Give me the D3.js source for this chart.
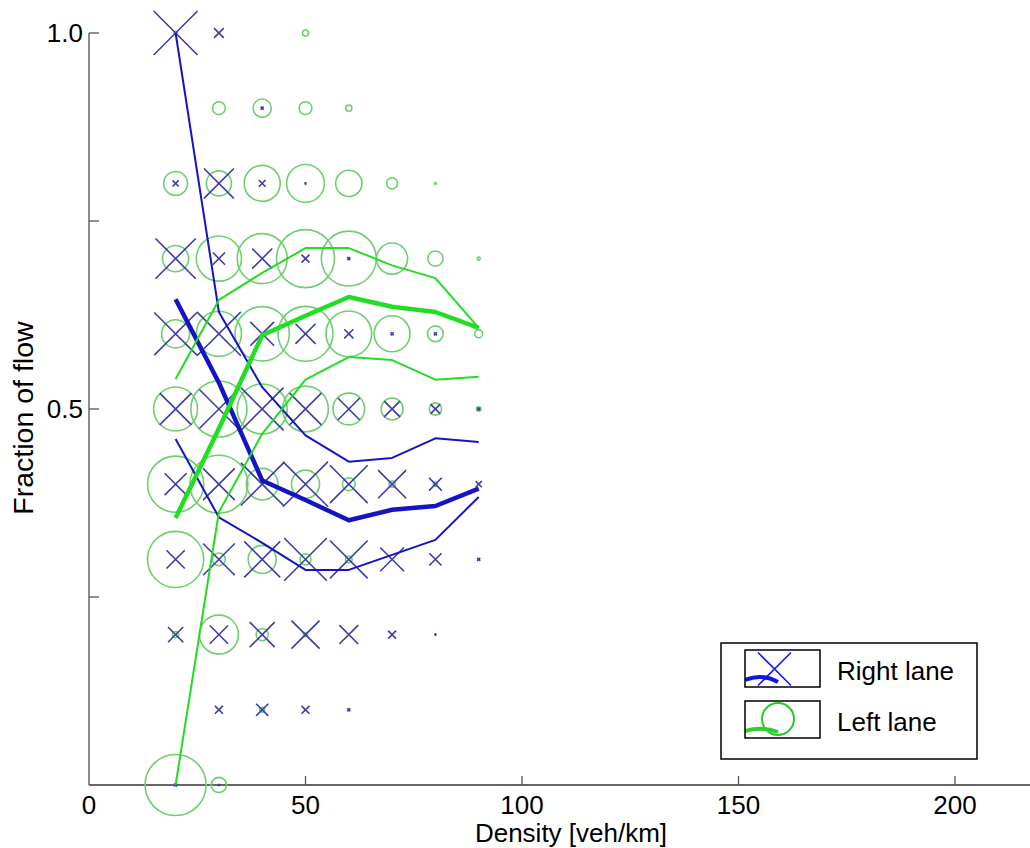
<!DOCTYPE html>
<html>
<head>
<meta charset="utf-8">
<script src="https://cdn.jsdelivr.net/npm/d3@7"></script>
<style>
  html, body { margin: 0; padding: 0; background: #fff; }
  svg { display: block; }
  text { font-family: "Liberation Sans", Arial, sans-serif; fill: #000; }
</style>
</head>
<body>
<div id="chart"></div>
<script>
// Density classes (veh/km) and flow-fraction classes
const densities = [20, 30, 40, 50, 60, 70, 80, 90];
const fractions = [1.0, 0.9, 0.8, 0.7, 0.6, 0.5, 0.4, 0.3, 0.2, 0.1, 0.0];

// Relative frequency of each (density, fraction) class, right lane (crosses)
const rightFreq = [
  [72, 16,  0,  0,  0,  0,  0,  0],
  [ 0,  0,  5,  0,  0,  0,  0,  0],
  [10, 49, 11,  3,  0,  0,  0,  0],
  [66, 20, 33, 13,  5,  0,  0,  0],
  [70, 72, 39, 33, 15,  5,  5,  0],
  [52, 64, 70, 52, 36, 26, 16,  5],
  [36, 52, 70, 74, 62, 46, 21, 10],
  [30, 52, 59, 70, 62, 39, 20,  5],
  [25, 30, 41, 46, 31, 13,  3,  0],
  [ 0, 13, 20, 13,  5,  0,  0,  0],
  [ 5,  3,  0,  0,  0,  0,  0,  0]
];

// Relative frequency of each (density, fraction) class, left lane (circles)
const leftFreq = [
  [  5,  0,  0, 10,  0,  0,  0,  0],
  [  0, 21, 30, 21, 10,  0,  0,  0],
  [ 39, 41, 59, 62, 43, 18,  3,  0],
  [ 43, 74, 82, 95, 90, 51, 25,  5],
  [ 46, 74, 89, 90, 75, 59, 26, 13],
  [ 72, 92, 82, 75, 52, 36, 20,  7],
  [ 92, 95, 52, 46, 21, 10,  7,  0],
  [ 92, 21, 46, 18, 11,  0,  0,  0],
  [ 10, 64, 20,  7,  0,  0,  0,  0],
  [  0,  0,  8,  0,  0,  0,  0,  0],
  [100, 25,  0,  0,  0,  0,  0,  0]
];

// Mean fraction of flow and mean ± one standard deviation per density class
const rightMean  = [0.646, 0.535, 0.405, 0.379, 0.352, 0.366, 0.371, 0.394];
const rightUpper = [1.000, 0.629, 0.529, 0.465, 0.430, 0.435, 0.461, 0.456];
const rightLower = [0.460, 0.356, 0.322, 0.286, 0.286, 0.306, 0.326, 0.383];
const leftMean   = [0.355, 0.474, 0.598, 0.624, 0.649, 0.636, 0.629, 0.608];
const leftUpper  = [0.540, 0.645, 0.681, 0.714, 0.714, 0.691, 0.674, 0.608];
const leftLower  = [0.000, 0.363, 0.467, 0.539, 0.569, 0.565, 0.539, 0.543];

// Axis ticks
const xTicks = [0, 50, 100, 150, 200];
const yTicks = [0.25, 0.5, 0.75, 1.0];
const yLabelled = [0.5, 1.0];

const legendItems = ["Right lane", "Left lane"];

const W = 1030, H = 848;
const blueMark = "#3d3da6";
const greenMark = "#6fcf6f";
const blueLine = "#1414c4";
const greenLine = "#22dd22";
const axisColor = "#555";

const svg = d3.select("#chart").append("svg")
  .attr("width", W).attr("height", H);
svg.append("rect").attr("width", W).attr("height", H).attr("fill", "#fff");

const x = d3.scaleLinear().domain([0, 220]).range([89, 89 + 220 * 4.33]);
const y = d3.scaleLinear().domain([0, 1]).range([785, 33]);
const size = d3.scaleLinear().domain([0, 100]).range([0, 30.5]);

// Axes
const xAxis = svg.append("g").attr("transform", `translate(0,${y(0)})`);
xAxis.append("line").attr("x1", x(0)).attr("x2", W).attr("y1", 0).attr("y2", 0)
  .attr("stroke", "#333").attr("stroke-width", 1.5);
xAxis.selectAll("line.tick").data(xTicks.filter(d => d > 0)).join("line")
  .attr("class", "tick")
  .attr("x1", d => x(d)).attr("x2", d => x(d)).attr("y1", 0).attr("y2", -9)
  .attr("stroke", axisColor).attr("stroke-width", 1.3);
xAxis.selectAll("text").data(xTicks).join("text")
  .attr("x", d => x(d)).attr("y", 29)
  .attr("text-anchor", "middle").attr("font-size", 26)
  .text(d => d);

const yAxis = svg.append("g").attr("transform", `translate(${x(0)},0)`);
yAxis.append("line").attr("x1", 0).attr("x2", 0).attr("y1", y(0)).attr("y2", y(1))
  .attr("stroke", "#666").attr("stroke-width", 1.5);
yAxis.selectAll("line.tick").data(yTicks).join("line")
  .attr("class", "tick")
  .attr("x1", 0).attr("x2", 10).attr("y1", d => y(d)).attr("y2", d => y(d))
  .attr("stroke", axisColor).attr("stroke-width", 1.3);
yAxis.selectAll("text").data(yLabelled).join("text")
  .attr("x", -6).attr("y", d => y(d) + 9)
  .attr("text-anchor", "end").attr("font-size", 26)
  .text(d => d3.format(".1f")(d));

svg.append("text")
  .attr("x", 571).attr("y", 842)
  .attr("text-anchor", "middle").attr("font-size", 26)
  .text("Density [veh/km]");
svg.append("text")
  .attr("transform", `translate(33,${418}) rotate(-90)`)
  .attr("text-anchor", "middle").attr("font-size", 28.5)
  .text("Fraction of flow");

// Flatten the class grids into marker records
const cells = [];
fractions.forEach((f, i) => densities.forEach((d, j) => {
  cells.push({ d, f, right: rightFreq[i][j], left: leftFreq[i][j] });
}));

// Left lane: circles
svg.append("g").selectAll("circle")
  .data(cells.filter(c => c.left > 0)).join("circle")
  .attr("cx", c => x(c.d)).attr("cy", c => y(c.f))
  .attr("r", c => size(c.left))
  .attr("fill", "none").attr("stroke", greenMark).attr("stroke-width", 1.6);

// Right lane: crosses
const crossPath = (cx, cy, h) =>
  `M${cx - h},${cy - h}L${cx + h},${cy + h}M${cx - h},${cy + h}L${cx + h},${cy - h}`;
svg.append("g").selectAll("path")
  .data(cells.filter(c => c.right > 0)).join("path")
  .attr("d", c => crossPath(x(c.d), y(c.f), size(c.right)))
  .attr("fill", "none").attr("stroke", blueMark).attr("stroke-width", 1.6);

// Mean and ±std lines
const line = d3.line().x((v, i) => x(densities[i])).y(v => y(v));
const lines = [
  { v: rightUpper, c: blueLine, w: 2 },
  { v: rightLower, c: blueLine, w: 2 },
  { v: rightMean, c: blueLine, w: 4.5 },
  { v: leftUpper, c: greenLine, w: 2 },
  { v: leftLower, c: greenLine, w: 2 },
  { v: leftMean, c: greenLine, w: 4.5 }
];
svg.append("g").selectAll("path")
  .data(lines).join("path")
  .attr("d", l => line(l.v))
  .attr("fill", "none").attr("stroke", l => l.c).attr("stroke-width", l => l.w)
  .attr("stroke-linejoin", "round");

// Legend
const lg = svg.append("g");
lg.append("rect").attr("x", 721).attr("y", 643).attr("width", 256).attr("height", 116)
  .attr("fill", "#fff").attr("stroke", "#000").attr("stroke-width", 1.5);
legendItems.forEach((name, i) => {
  const top = 650 + i * 51;
  const g = lg.append("g");
  const clipId = "swatch" + i;
  g.append("clipPath").attr("id", clipId)
    .append("rect").attr("x", 745).attr("y", top).attr("width", 75).attr("height", 37);
  const inner = g.append("g").attr("clip-path", `url(#${clipId})`);
  if (i === 0) {
    inner.append("path").attr("d", crossPath(774.5, top + 19, 16.5))
      .attr("fill", "none").attr("stroke", "#1a1aff").attr("stroke-width", 1.6);
    inner.append("path").attr("d", `M745,${top + 30}Q762,${top + 23} 778,${top + 32}`)
      .attr("fill", "none").attr("stroke", "#1414e0").attr("stroke-width", 4);
  } else {
    inner.append("circle").attr("cx", 778).attr("cy", top + 18).attr("r", 16)
      .attr("fill", "none").attr("stroke", "#22cc22").attr("stroke-width", 2);
    inner.append("path").attr("d", `M745,${top + 30}Q762,${top + 25} 778,${top + 31}`)
      .attr("fill", "none").attr("stroke", "#33cc33").attr("stroke-width", 4);
  }
  g.append("rect").attr("x", 745).attr("y", top).attr("width", 75).attr("height", 37)
    .attr("fill", "none").attr("stroke", "#000").attr("stroke-width", 1.5);
  g.append("text").attr("x", 837).attr("y", top + 30).attr("font-size", 26).text(name);
});
</script>
</body>
</html>
